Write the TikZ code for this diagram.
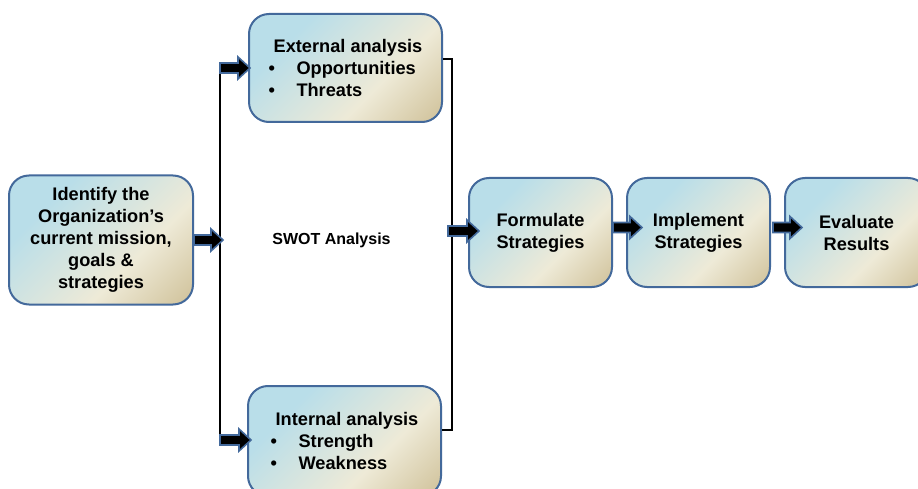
\documentclass[tikz,border=0pt]{standalone}
\usepackage{fontspec}
\setmainfont{Liberation Sans}
\usetikzlibrary{calc}

\definecolor{edgeblue}{HTML}{43699B}
\definecolor{shadeA}{HTML}{B9DEE9}
\definecolor{shadeB}{HTML}{EEEAD7}
\definecolor{shadeC}{HTML}{D1C39C}
\pgfdeclarehorizontalshading{panelshade}{100bp}{color(0bp)=(shadeA); color(30bp)=(shadeA); color(62bp)=(shadeB); color(84bp)=(shadeC); color(100bp)=(shadeC)}

\tikzset{
  panel/.style={draw=edgeblue, line width=2pt, rounded corners=20pt,
    shading=panelshade, shading angle=-45, inner sep=0pt,
    font=\fontsize{18.2}{22}\selectfont\bfseries},
  wire/.style={draw=black, line width=2.8pt},
  blockarrow/.style={fill=black, draw=edgeblue, line width=1.6pt, line join=miter},
  caption/.style={font=\fontsize{16}{19}\selectfont\bfseries}
}

% horizontal block arrow from #1 to #2 (tip at #2)
\newcommand\blockarrow[2]{%
  \path[blockarrow] let \p1=#1, \p2=#2 in
    (\x1,{\y1+5pt}) -- ({\x2-12pt},{\y1+5pt}) -- ({\x2-12pt},{\y1+11pt})
    -- (\x2,\y1) -- ({\x2-12pt},{\y1-11pt}) -- ({\x2-12pt},{\y1-5pt})
    -- (\x1,{\y1-5pt}) -- cycle;}

\begin{document}
\begin{tikzpicture}[x=1pt, y=-1pt]
  \useasboundingbox (0,0) rectangle (918,489);
  \clip (0,0) rectangle (918,489);

  % boxes
  \node[panel, minimum width=184pt, minimum height=129pt, align=center] (ident) at (101,240)
    {Identify the\\Organization’s\\current mission,\\goals \&\\strategies};
  \node[panel, minimum width=193pt, minimum height=108pt, align=left] (ext) at (345.5,68)
    {\hspace*{5pt}External analysis\\\textbullet\hspace{21.5pt}Opportunities\\\textbullet\hspace{21.5pt}Threats};
  \node[panel, minimum width=193pt, minimum height=110pt, align=left] (int) at (344.5,441)
    {\hspace*{5pt}Internal analysis\\\textbullet\hspace{21.5pt}Strength\\\textbullet\hspace{21.5pt}Weakness};
  \node[panel, minimum width=143pt, minimum height=109pt, align=center] (form) at (540.5,232.5)
    {Formulate\\Strategies};
  \node[panel, minimum width=143pt, minimum height=109pt, align=center] (impl) at (698.5,232.5)
    {Implement\\Strategies};
  \node[panel, minimum width=143pt, minimum height=109pt, align=center] (eval) at (856.5,232.5)
    {Evaluate\\Results};

  \node[caption] (swot) at (331.5,240) {SWOT Analysis};

  % branching spine and collecting bracket
  \coordinate (spinetop) at (220,68);
  \coordinate (spinebot) at (220,440);
  \coordinate (brtop) at (452,59);
  \coordinate (brbot) at (452,430);
  \coordinate (brout) at (448,231);

  \draw[wire] (spinetop) -- (spinebot);
  \draw[wire] ($(ext.east)+(0,-9)$) -- (brtop) -- (brbot) -- ($(int.east)+(0,-11)$);

  % arrows
  \blockarrow{(ident.east)}{($(ident.east -| spinetop)+(3,0)$)}
  \blockarrow{(spinetop)}{($(ext.west)+(2,0)$)}
  \blockarrow{(spinebot)}{($(int.west)+(4,0)$)}
  \blockarrow{(brout)}{($(form.west |- brout)+(11,0)$)}
  \blockarrow{($(form.east)+(0,-5)$)}{($(impl.west)+(16,-5)$)}
  \blockarrow{($(impl.east)+(2,-5)$)}{($(eval.west)+(18,-5)$)}
\end{tikzpicture}
\end{document}
